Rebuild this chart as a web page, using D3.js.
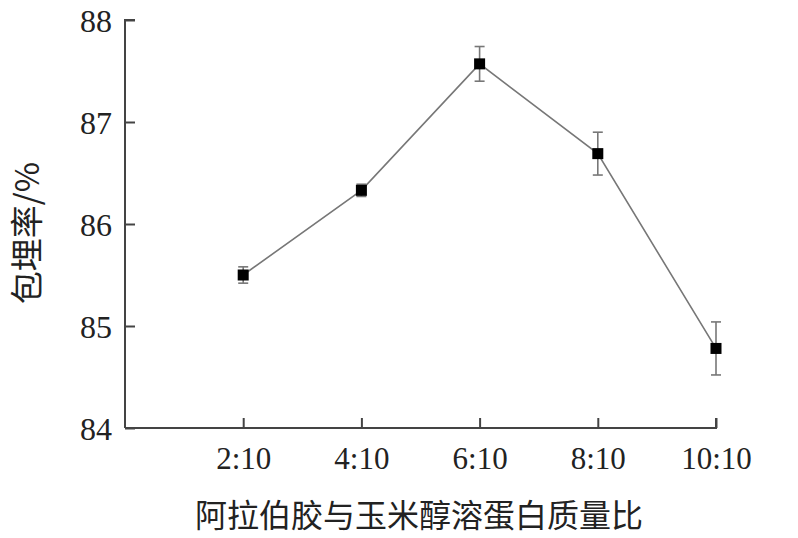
<!DOCTYPE html>
<html><head><meta charset="utf-8">
<script src="https://cdn.jsdelivr.net/npm/d3@7"></script>
<style>body{margin:0;background:#fff}</style>
</head><body>
<script>
const categories = ["2:10","4:10","6:10","8:10","10:10"];
const values = [85.50, 86.33, 87.57, 86.69, 84.78];
const errors = [0.08, 0.06, 0.17, 0.21, 0.26];
const yTicks = [84, 85, 86, 87, 88];
const xTitle = "阿拉伯胶与玉米醇溶蛋白质量比";
const yTitle = "包埋率/%";

const W = 798, H = 538;
const svg = d3.select("body").append("svg").attr("width", W).attr("height", H);
const x = d3.scaleLinear().domain([0, categories.length]).range([125, 716]);
const y = d3.scaleLinear().domain([84, 88]).range([428, 20]);
const axisColor = "#444";
const serif = "'Liberation Serif','Times New Roman',serif";

// y axis
const ya = svg.append("g").attr("transform", "translate(125,0)")
  .call(d3.axisRight(y).tickValues(yTicks).tickSize(10).tickFormat(d3.format("d")));
ya.select(".domain").attr("d", `M10,${y(88)}H0V${y(84)}`).attr("stroke", axisColor).attr("stroke-width", 2);
ya.selectAll(".tick line").attr("stroke", axisColor).attr("stroke-width", 2);
ya.selectAll(".tick text").attr("x", -13).attr("text-anchor", "end").attr("dy", "0.35em")
  .attr("font-family", serif).attr("font-size", 32).attr("fill", "#222");

// x axis
const xa = svg.append("g").attr("transform", "translate(0,428)")
  .call(d3.axisTop(x).tickValues(categories.map((c,i)=>i+1)).tickSize(10).tickFormat(d => categories[d-1]));
xa.select(".domain").attr("d", `M${x(0)},0H${x(categories.length)}V-10`).attr("stroke", axisColor).attr("stroke-width", 2);
xa.selectAll(".tick line").attr("stroke", axisColor).attr("stroke-width", 2);
xa.selectAll(".tick text").attr("y", 41).attr("dy", 0).attr("text-anchor", "middle")
  .attr("font-family", serif).attr("font-size", 31).attr("fill", "#222");

// line
const pts = values.map((v,i)=>({i:i+1, v, e:errors[i]}));
svg.append("path").datum(pts)
  .attr("d", d3.line().x(d=>x(d.i)).y(d=>y(d.v)))
  .attr("fill","none").attr("stroke","#777").attr("stroke-width",1.6);

// error bars
const eb = svg.append("g").attr("stroke","#777").attr("stroke-width",1.6);
pts.forEach(d=>{
  eb.append("line").attr("x1",x(d.i)).attr("x2",x(d.i)).attr("y1",y(d.v+d.e)).attr("y2",y(d.v-d.e));
  [d.v+d.e, d.v-d.e].forEach(t=>eb.append("line").attr("x1",x(d.i)-5).attr("x2",x(d.i)+5).attr("y1",y(t)).attr("y2",y(t)));
});

// markers
svg.append("g").selectAll("rect").data(pts).join("rect")
  .attr("x", d=>x(d.i)-5.5).attr("y", d=>y(d.v)-5.5).attr("width",11).attr("height",11).attr("fill","#000");

// titles
svg.append("text").attr("x", 419).attr("y", 527).attr("text-anchor","middle")
  .attr("font-family","'Noto Sans CJK SC',sans-serif").attr("font-size",32).attr("fill","#222").text(xTitle);
svg.append("text").attr("transform","translate(39,233) rotate(-90)").attr("text-anchor","middle")
  .attr("font-family","'Noto Sans CJK SC',sans-serif").attr("font-size",33).attr("fill","#222").text(yTitle);
</script>
</body></html>
